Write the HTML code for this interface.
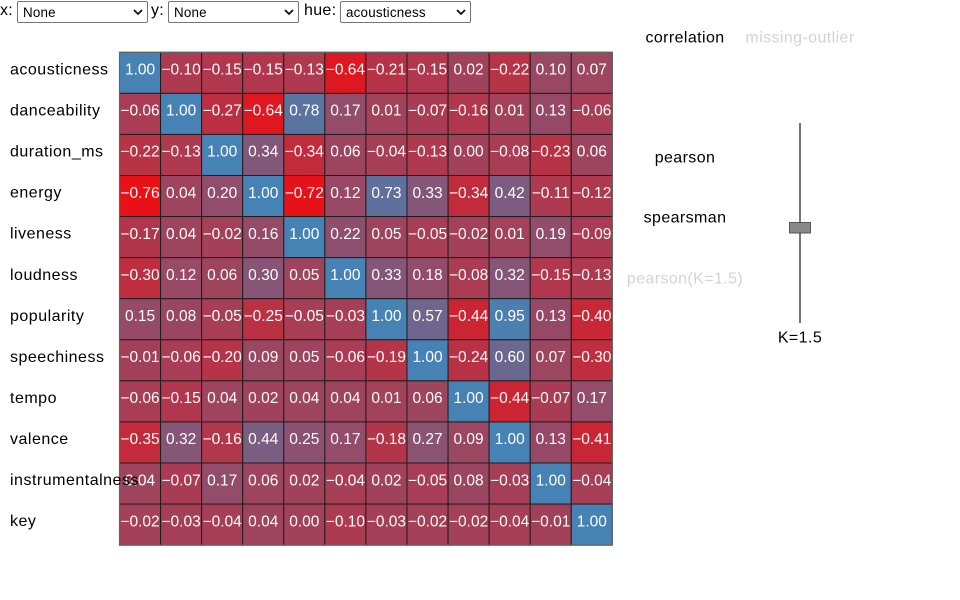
<!DOCTYPE html>
<html>
<head>
<meta charset="utf-8">
<style>
html,body{margin:0;padding:0;background:#fff;}
body{width:960px;height:600px;position:relative;overflow:hidden;font-family:"Liberation Sans",Arial,sans-serif;}
.lbl{position:absolute;top:2px;font-size:16px;line-height:18px;color:#000;letter-spacing:0.3px;}
.sel{position:absolute;top:1px;height:20px;width:128px;border:1px solid #767676;border-radius:2px;background:#fff;font-size:13.4px;line-height:21px;padding-left:5px;box-sizing:content-box;color:#000;letter-spacing:0.2px;}
.sel svg{position:absolute;right:4px;top:6px;}
svg.main{position:absolute;left:0;top:0;}
</style>
</head>
<body>
<div class="lbl" style="left:0px;">x:</div>
<div class="sel" style="left:17px;width:124px;">None<svg width="10" height="8"><polyline points="1,2 5,6 9,2" fill="none" stroke="#111" stroke-width="1.8"/></svg></div>
<div class="lbl" style="left:151px;">y:</div>
<div class="sel" style="left:168px;width:124px;">None<svg width="10" height="8"><polyline points="1,2 5,6 9,2" fill="none" stroke="#111" stroke-width="1.8"/></svg></div>
<div class="lbl" style="left:304px;">hue:</div>
<div class="sel" style="left:340px;width:124px;">acousticness<svg width="10" height="8"><polyline points="1,2 5,6 9,2" fill="none" stroke="#111" stroke-width="1.8"/></svg></div>

<svg class="main" width="960" height="600" xmlns="http://www.w3.org/2000/svg" font-family="Liberation Sans, Arial, sans-serif">
<g stroke="#1e1e1e" stroke-width="1">
<g transform="translate(0,52.3)">
<rect x="119.5" width="41.07" height="41.07" fill="rgb(70,130,180)"/>
<rect x="160.57" width="41.07" height="41.07" fill="rgb(172,59,81)"/>
<rect x="201.64" width="41.07" height="41.07" fill="rgb(176,55,77)"/>
<rect x="242.71" width="41.07" height="41.07" fill="rgb(176,55,77)"/>
<rect x="283.78" width="41.07" height="41.07" fill="rgb(175,57,78)"/>
<rect x="324.85" width="41.07" height="41.07" fill="rgb(222,23,32)"/>
<rect x="365.92" width="41.07" height="41.07" fill="rgb(182,51,71)"/>
<rect x="406.99" width="41.07" height="41.07" fill="rgb(176,55,77)"/>
<rect x="448.06" width="41.07" height="41.07" fill="rgb(161,66,92)"/>
<rect x="489.13" width="41.07" height="41.07" fill="rgb(183,51,70)"/>
<rect x="530.2" width="41.07" height="41.07" fill="rgb(153,72,99)"/>
<rect x="571.27" width="41.07" height="41.07" fill="rgb(156,70,96)"/>
</g>
<g transform="translate(0,93.37)">
<rect x="119.5" width="41.07" height="41.07" fill="rgb(168,61,85)"/>
<rect x="160.57" width="41.07" height="41.07" fill="rgb(70,130,180)"/>
<rect x="201.64" width="41.07" height="41.07" fill="rgb(188,47,66)"/>
<rect x="242.71" width="41.07" height="41.07" fill="rgb(222,23,32)"/>
<rect x="283.78" width="41.07" height="41.07" fill="rgb(90,116,160)"/>
<rect x="324.85" width="41.07" height="41.07" fill="rgb(147,76,105)"/>
<rect x="365.92" width="41.07" height="41.07" fill="rgb(162,66,91)"/>
<rect x="406.99" width="41.07" height="41.07" fill="rgb(169,60,84)"/>
<rect x="448.06" width="41.07" height="41.07" fill="rgb(177,55,76)"/>
<rect x="489.13" width="41.07" height="41.07" fill="rgb(162,66,91)"/>
<rect x="530.2" width="41.07" height="41.07" fill="rgb(150,73,102)"/>
<rect x="571.27" width="41.07" height="41.07" fill="rgb(168,61,85)"/>
</g>
<g transform="translate(0,134.44)">
<rect x="119.5" width="41.07" height="41.07" fill="rgb(183,51,70)"/>
<rect x="160.57" width="41.07" height="41.07" fill="rgb(175,57,78)"/>
<rect x="201.64" width="41.07" height="41.07" fill="rgb(70,130,180)"/>
<rect x="242.71" width="41.07" height="41.07" fill="rgb(131,87,121)"/>
<rect x="283.78" width="41.07" height="41.07" fill="rgb(194,43,59)"/>
<rect x="324.85" width="41.07" height="41.07" fill="rgb(157,69,95)"/>
<rect x="365.92" width="41.07" height="41.07" fill="rgb(166,62,86)"/>
<rect x="406.99" width="41.07" height="41.07" fill="rgb(175,57,78)"/>
<rect x="448.06" width="41.07" height="41.07" fill="rgb(163,65,90)"/>
<rect x="489.13" width="41.07" height="41.07" fill="rgb(170,60,83)"/>
<rect x="530.2" width="41.07" height="41.07" fill="rgb(184,50,69)"/>
<rect x="571.27" width="41.07" height="41.07" fill="rgb(157,69,95)"/>
</g>
<g transform="translate(0,175.51)">
<rect x="119.5" width="41.07" height="41.07" fill="rgb(233,16,22)"/>
<rect x="160.57" width="41.07" height="41.07" fill="rgb(159,68,94)"/>
<rect x="201.64" width="41.07" height="41.07" fill="rgb(144,78,108)"/>
<rect x="242.71" width="41.07" height="41.07" fill="rgb(70,130,180)"/>
<rect x="283.78" width="41.07" height="41.07" fill="rgb(229,18,25)"/>
<rect x="324.85" width="41.07" height="41.07" fill="rgb(151,73,101)"/>
<rect x="365.92" width="41.07" height="41.07" fill="rgb(95,112,156)"/>
<rect x="406.99" width="41.07" height="41.07" fill="rgb(132,86,120)"/>
<rect x="448.06" width="41.07" height="41.07" fill="rgb(194,43,59)"/>
<rect x="489.13" width="41.07" height="41.07" fill="rgb(124,92,128)"/>
<rect x="530.2" width="41.07" height="41.07" fill="rgb(173,58,80)"/>
<rect x="571.27" width="41.07" height="41.07" fill="rgb(174,57,79)"/>
</g>
<g transform="translate(0,216.58)">
<rect x="119.5" width="41.07" height="41.07" fill="rgb(178,54,75)"/>
<rect x="160.57" width="41.07" height="41.07" fill="rgb(159,68,94)"/>
<rect x="201.64" width="41.07" height="41.07" fill="rgb(164,64,88)"/>
<rect x="242.71" width="41.07" height="41.07" fill="rgb(148,75,104)"/>
<rect x="283.78" width="41.07" height="41.07" fill="rgb(70,130,180)"/>
<rect x="324.85" width="41.07" height="41.07" fill="rgb(142,79,110)"/>
<rect x="365.92" width="41.07" height="41.07" fill="rgb(158,68,95)"/>
<rect x="406.99" width="41.07" height="41.07" fill="rgb(167,62,86)"/>
<rect x="448.06" width="41.07" height="41.07" fill="rgb(164,64,88)"/>
<rect x="489.13" width="41.07" height="41.07" fill="rgb(162,66,91)"/>
<rect x="530.2" width="41.07" height="41.07" fill="rgb(145,77,107)"/>
<rect x="571.27" width="41.07" height="41.07" fill="rgb(171,59,82)"/>
</g>
<g transform="translate(0,257.65)">
<rect x="119.5" width="41.07" height="41.07" fill="rgb(190,46,63)"/>
<rect x="160.57" width="41.07" height="41.07" fill="rgb(151,73,101)"/>
<rect x="201.64" width="41.07" height="41.07" fill="rgb(157,69,95)"/>
<rect x="242.71" width="41.07" height="41.07" fill="rgb(135,85,117)"/>
<rect x="283.78" width="41.07" height="41.07" fill="rgb(158,68,95)"/>
<rect x="324.85" width="41.07" height="41.07" fill="rgb(70,130,180)"/>
<rect x="365.92" width="41.07" height="41.07" fill="rgb(132,86,120)"/>
<rect x="406.99" width="41.07" height="41.07" fill="rgb(146,77,106)"/>
<rect x="448.06" width="41.07" height="41.07" fill="rgb(170,60,83)"/>
<rect x="489.13" width="41.07" height="41.07" fill="rgb(133,86,119)"/>
<rect x="530.2" width="41.07" height="41.07" fill="rgb(176,55,77)"/>
<rect x="571.27" width="41.07" height="41.07" fill="rgb(175,57,78)"/>
</g>
<g transform="translate(0,298.72)">
<rect x="119.5" width="41.07" height="41.07" fill="rgb(149,75,104)"/>
<rect x="160.57" width="41.07" height="41.07" fill="rgb(155,70,97)"/>
<rect x="201.64" width="41.07" height="41.07" fill="rgb(167,62,86)"/>
<rect x="242.71" width="41.07" height="41.07" fill="rgb(186,49,68)"/>
<rect x="283.78" width="41.07" height="41.07" fill="rgb(167,62,86)"/>
<rect x="324.85" width="41.07" height="41.07" fill="rgb(165,63,87)"/>
<rect x="365.92" width="41.07" height="41.07" fill="rgb(70,130,180)"/>
<rect x="406.99" width="41.07" height="41.07" fill="rgb(110,102,141)"/>
<rect x="448.06" width="41.07" height="41.07" fill="rgb(203,36,50)"/>
<rect x="489.13" width="41.07" height="41.07" fill="rgb(75,127,176)"/>
<rect x="530.2" width="41.07" height="41.07" fill="rgb(150,73,102)"/>
<rect x="571.27" width="41.07" height="41.07" fill="rgb(200,39,54)"/>
</g>
<g transform="translate(0,339.79)">
<rect x="119.5" width="41.07" height="41.07" fill="rgb(163,64,89)"/>
<rect x="160.57" width="41.07" height="41.07" fill="rgb(168,61,85)"/>
<rect x="201.64" width="41.07" height="41.07" fill="rgb(181,52,72)"/>
<rect x="242.71" width="41.07" height="41.07" fill="rgb(154,71,98)"/>
<rect x="283.78" width="41.07" height="41.07" fill="rgb(158,68,95)"/>
<rect x="324.85" width="41.07" height="41.07" fill="rgb(168,61,85)"/>
<rect x="365.92" width="41.07" height="41.07" fill="rgb(180,53,73)"/>
<rect x="406.99" width="41.07" height="41.07" fill="rgb(70,130,180)"/>
<rect x="448.06" width="41.07" height="41.07" fill="rgb(185,49,68)"/>
<rect x="489.13" width="41.07" height="41.07" fill="rgb(107,104,144)"/>
<rect x="530.2" width="41.07" height="41.07" fill="rgb(156,70,96)"/>
<rect x="571.27" width="41.07" height="41.07" fill="rgb(190,46,63)"/>
</g>
<g transform="translate(0,380.86)">
<rect x="119.5" width="41.07" height="41.07" fill="rgb(168,61,85)"/>
<rect x="160.57" width="41.07" height="41.07" fill="rgb(176,55,77)"/>
<rect x="201.64" width="41.07" height="41.07" fill="rgb(159,68,94)"/>
<rect x="242.71" width="41.07" height="41.07" fill="rgb(161,66,92)"/>
<rect x="283.78" width="41.07" height="41.07" fill="rgb(159,68,94)"/>
<rect x="324.85" width="41.07" height="41.07" fill="rgb(159,68,94)"/>
<rect x="365.92" width="41.07" height="41.07" fill="rgb(162,66,91)"/>
<rect x="406.99" width="41.07" height="41.07" fill="rgb(157,69,95)"/>
<rect x="448.06" width="41.07" height="41.07" fill="rgb(70,130,180)"/>
<rect x="489.13" width="41.07" height="41.07" fill="rgb(203,36,50)"/>
<rect x="530.2" width="41.07" height="41.07" fill="rgb(169,60,84)"/>
<rect x="571.27" width="41.07" height="41.07" fill="rgb(147,76,105)"/>
</g>
<g transform="translate(0,421.93)">
<rect x="119.5" width="41.07" height="41.07" fill="rgb(195,42,59)"/>
<rect x="160.57" width="41.07" height="41.07" fill="rgb(133,86,119)"/>
<rect x="201.64" width="41.07" height="41.07" fill="rgb(177,55,76)"/>
<rect x="242.71" width="41.07" height="41.07" fill="rgb(122,94,130)"/>
<rect x="283.78" width="41.07" height="41.07" fill="rgb(139,81,113)"/>
<rect x="324.85" width="41.07" height="41.07" fill="rgb(147,76,105)"/>
<rect x="365.92" width="41.07" height="41.07" fill="rgb(179,53,74)"/>
<rect x="406.99" width="41.07" height="41.07" fill="rgb(138,83,114)"/>
<rect x="448.06" width="41.07" height="41.07" fill="rgb(154,71,98)"/>
<rect x="489.13" width="41.07" height="41.07" fill="rgb(70,130,180)"/>
<rect x="530.2" width="41.07" height="41.07" fill="rgb(150,73,102)"/>
<rect x="571.27" width="41.07" height="41.07" fill="rgb(200,38,53)"/>
</g>
<g transform="translate(0,463)">
<rect x="119.5" width="41.07" height="41.07" fill="rgb(159,68,94)"/>
<rect x="160.57" width="41.07" height="41.07" fill="rgb(169,60,84)"/>
<rect x="201.64" width="41.07" height="41.07" fill="rgb(147,76,105)"/>
<rect x="242.71" width="41.07" height="41.07" fill="rgb(157,69,95)"/>
<rect x="283.78" width="41.07" height="41.07" fill="rgb(161,66,92)"/>
<rect x="324.85" width="41.07" height="41.07" fill="rgb(166,62,86)"/>
<rect x="365.92" width="41.07" height="41.07" fill="rgb(161,66,92)"/>
<rect x="406.99" width="41.07" height="41.07" fill="rgb(167,62,86)"/>
<rect x="448.06" width="41.07" height="41.07" fill="rgb(155,70,97)"/>
<rect x="489.13" width="41.07" height="41.07" fill="rgb(165,63,87)"/>
<rect x="530.2" width="41.07" height="41.07" fill="rgb(70,130,180)"/>
<rect x="571.27" width="41.07" height="41.07" fill="rgb(166,62,86)"/>
</g>
<g transform="translate(0,504.07)">
<rect x="119.5" width="41.07" height="41.07" fill="rgb(164,64,88)"/>
<rect x="160.57" width="41.07" height="41.07" fill="rgb(165,63,87)"/>
<rect x="201.64" width="41.07" height="41.07" fill="rgb(166,62,86)"/>
<rect x="242.71" width="41.07" height="41.07" fill="rgb(159,68,94)"/>
<rect x="283.78" width="41.07" height="41.07" fill="rgb(163,65,90)"/>
<rect x="324.85" width="41.07" height="41.07" fill="rgb(172,59,81)"/>
<rect x="365.92" width="41.07" height="41.07" fill="rgb(165,63,87)"/>
<rect x="406.99" width="41.07" height="41.07" fill="rgb(164,64,88)"/>
<rect x="448.06" width="41.07" height="41.07" fill="rgb(164,64,88)"/>
<rect x="489.13" width="41.07" height="41.07" fill="rgb(166,62,86)"/>
<rect x="530.2" width="41.07" height="41.07" fill="rgb(163,64,89)"/>
<rect x="571.27" width="41.07" height="41.07" fill="rgb(70,130,180)"/>
</g>
</g>
<rect x="119.5" y="52.3" width="492.84" height="492.84" fill="none" stroke="#666" stroke-width="1.2"/>

<g fill="#fff" font-size="15.5" text-anchor="middle">
<g transform="translate(0,74.6)">
<text x="140.04">1.00</text><text x="181.11">−0.10</text><text x="222.18">−0.15</text><text x="263.25">−0.15</text><text x="304.32">−0.13</text><text x="345.39">−0.64</text><text x="386.46">−0.21</text><text x="427.53">−0.15</text><text x="468.6">0.02</text><text x="509.67">−0.22</text><text x="550.74">0.10</text><text x="591.81">0.07</text>
</g>
<g transform="translate(0,115.67)">
<text x="140.04">−0.06</text><text x="181.11">1.00</text><text x="222.18">−0.27</text><text x="263.25">−0.64</text><text x="304.32">0.78</text><text x="345.39">0.17</text><text x="386.46">0.01</text><text x="427.53">−0.07</text><text x="468.6">−0.16</text><text x="509.67">0.01</text><text x="550.74">0.13</text><text x="591.81">−0.06</text>
</g>
<g transform="translate(0,156.74)">
<text x="140.04">−0.22</text><text x="181.11">−0.13</text><text x="222.18">1.00</text><text x="263.25">0.34</text><text x="304.32">−0.34</text><text x="345.39">0.06</text><text x="386.46">−0.04</text><text x="427.53">−0.13</text><text x="468.6">0.00</text><text x="509.67">−0.08</text><text x="550.74">−0.23</text><text x="591.81">0.06</text>
</g>
<g transform="translate(0,197.81)">
<text x="140.04">−0.76</text><text x="181.11">0.04</text><text x="222.18">0.20</text><text x="263.25">1.00</text><text x="304.32">−0.72</text><text x="345.39">0.12</text><text x="386.46">0.73</text><text x="427.53">0.33</text><text x="468.6">−0.34</text><text x="509.67">0.42</text><text x="550.74">−0.11</text><text x="591.81">−0.12</text>
</g>
<g transform="translate(0,238.88)">
<text x="140.04">−0.17</text><text x="181.11">0.04</text><text x="222.18">−0.02</text><text x="263.25">0.16</text><text x="304.32">1.00</text><text x="345.39">0.22</text><text x="386.46">0.05</text><text x="427.53">−0.05</text><text x="468.6">−0.02</text><text x="509.67">0.01</text><text x="550.74">0.19</text><text x="591.81">−0.09</text>
</g>
<g transform="translate(0,279.95)">
<text x="140.04">−0.30</text><text x="181.11">0.12</text><text x="222.18">0.06</text><text x="263.25">0.30</text><text x="304.32">0.05</text><text x="345.39">1.00</text><text x="386.46">0.33</text><text x="427.53">0.18</text><text x="468.6">−0.08</text><text x="509.67">0.32</text><text x="550.74">−0.15</text><text x="591.81">−0.13</text>
</g>
<g transform="translate(0,321.02)">
<text x="140.04">0.15</text><text x="181.11">0.08</text><text x="222.18">−0.05</text><text x="263.25">−0.25</text><text x="304.32">−0.05</text><text x="345.39">−0.03</text><text x="386.46">1.00</text><text x="427.53">0.57</text><text x="468.6">−0.44</text><text x="509.67">0.95</text><text x="550.74">0.13</text><text x="591.81">−0.40</text>
</g>
<g transform="translate(0,362.09)">
<text x="140.04">−0.01</text><text x="181.11">−0.06</text><text x="222.18">−0.20</text><text x="263.25">0.09</text><text x="304.32">0.05</text><text x="345.39">−0.06</text><text x="386.46">−0.19</text><text x="427.53">1.00</text><text x="468.6">−0.24</text><text x="509.67">0.60</text><text x="550.74">0.07</text><text x="591.81">−0.30</text>
</g>
<g transform="translate(0,403.16)">
<text x="140.04">−0.06</text><text x="181.11">−0.15</text><text x="222.18">0.04</text><text x="263.25">0.02</text><text x="304.32">0.04</text><text x="345.39">0.04</text><text x="386.46">0.01</text><text x="427.53">0.06</text><text x="468.6">1.00</text><text x="509.67">−0.44</text><text x="550.74">−0.07</text><text x="591.81">0.17</text>
</g>
<g transform="translate(0,444.23)">
<text x="140.04">−0.35</text><text x="181.11">0.32</text><text x="222.18">−0.16</text><text x="263.25">0.44</text><text x="304.32">0.25</text><text x="345.39">0.17</text><text x="386.46">−0.18</text><text x="427.53">0.27</text><text x="468.6">0.09</text><text x="509.67">1.00</text><text x="550.74">0.13</text><text x="591.81">−0.41</text>
</g>
<g transform="translate(0,485.3)">
<text x="140.04">0.04</text><text x="181.11">−0.07</text><text x="222.18">0.17</text><text x="263.25">0.06</text><text x="304.32">0.02</text><text x="345.39">−0.04</text><text x="386.46">0.02</text><text x="427.53">−0.05</text><text x="468.6">0.08</text><text x="509.67">−0.03</text><text x="550.74">1.00</text><text x="591.81">−0.04</text>
</g>
<g transform="translate(0,526.37)">
<text x="140.04">−0.02</text><text x="181.11">−0.03</text><text x="222.18">−0.04</text><text x="263.25">0.04</text><text x="304.32">0.00</text><text x="345.39">−0.10</text><text x="386.46">−0.03</text><text x="427.53">−0.02</text><text x="468.6">−0.02</text><text x="509.67">−0.04</text><text x="550.74">−0.01</text><text x="591.81">1.00</text>
</g>
</g>

<g fill="#000" font-size="16" text-anchor="start" letter-spacing="0.5">
<text x="10" y="74.4">acousticness</text>
<text x="10" y="115.5">danceability</text>
<text x="10" y="156.6">duration_ms</text>
<text x="10" y="197.6">energy</text>
<text x="10" y="238.7">liveness</text>
<text x="10" y="279.8">loudness</text>
<text x="10" y="320.8">popularity</text>
<text x="10" y="361.9">speechiness</text>
<text x="10" y="403">tempo</text>
<text x="10" y="444">valence</text>
<text x="10" y="485.1">instrumentalness</text>
<text x="10" y="526.2">key</text>
</g>

<g font-size="16" text-anchor="middle" letter-spacing="0.4">
<text x="685" y="42.7" fill="#000">correlation</text>
<text x="800" y="42.7" fill="#d3d3d3">missing-outlier</text>
<text x="685" y="162.7" fill="#000">pearson</text>
<text x="685" y="222.7" fill="#000">spearsman</text>
<text x="685" y="283.3" fill="#d3d3d3">pearson(K=1.5)</text>
<text x="800" y="342.7" fill="#000">K=1.5</text>
</g>
<line x1="800" y1="123" x2="800" y2="323" stroke="#777" stroke-width="2"/>
<rect x="789.5" y="222.5" width="21" height="10.5" fill="#888" stroke="#555" stroke-width="1"/>
</svg>
</body>
</html>
